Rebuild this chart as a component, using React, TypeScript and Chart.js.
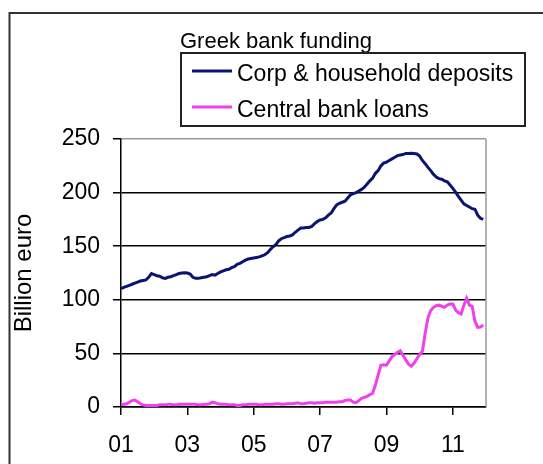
import React, { useEffect, useRef } from 'react';
import { Chart, registerables } from 'chart.js';

Chart.register(...registerables);

const FONT = '"Liberation Sans", Arial, Helvetica, sans-serif';

// Monthly data, Jan 2001 .. Dec 2011 (billion euro)
const startYear = 2001;
const deposits = [
  110.5, 111.5, 112.5, 113.5, 114.5, 115.5, 116.5, 117.5, 118, 118.5, 121, 124.5,
  123.5, 122.5, 122, 120.5, 120, 121, 121.5, 122.5, 123.5, 124.5, 125, 125.3,
  125, 124, 121, 120, 120, 120.5, 121, 121.5, 122.5, 123.5, 123, 124.5,
  126, 127, 128, 128.5, 130, 131, 133, 134, 135.5, 137, 138, 138.5,
  139, 139.5, 140, 141, 142, 144, 147, 149.5, 151.5, 155, 157, 158,
  159, 159.5, 160.5, 163, 165, 167, 167, 167.5, 167.5, 168.5, 171, 173,
  174.5, 175, 176.5, 179, 181, 185, 188.5, 190, 191, 192, 195, 198,
  199, 200, 201.5, 203, 205, 208, 211, 213.5, 218, 220.5, 225, 227.5,
  228.5, 230, 231.5, 233, 234.5, 235, 235.5, 236.5, 236.5, 236.8, 236.5, 236,
  234, 230, 227, 223.5, 220.5, 217, 214.5, 213, 212.5, 211, 210, 207,
  204, 200.5, 196.5, 193, 189.5, 188, 186.5, 185, 184.5, 179, 176, 175,
];
const loans = [
  2, 2.5, 3, 4.5, 6, 6.5, 5, 3, 2, 1.5, 1.5, 1.5,
  1.5, 1.5, 2, 2, 2, 2.5, 2.5, 2, 2, 2.5, 2.5, 2.5,
  2.5, 2.5, 2.5, 2.5, 2, 2, 2.5, 2.5, 3, 4.5, 4, 3,
  2.5, 2.5, 2.5, 2, 2, 2, 1.5, 1.5, 2, 2, 2.5, 2.5,
  2.5, 2.5, 2, 2, 2.5, 2.5, 2.5, 2.5, 3, 3, 2.5, 2.5,
  3, 3, 3, 3.5, 4, 3, 3, 3.5, 4, 4, 3.5, 4,
  4, 4, 4.5, 4.5, 4.5, 4.5, 4.5, 5, 5, 6, 6.5, 6.5,
  4.5, 4, 6, 8, 9, 10, 11.5, 12.8, 20.5, 30, 39, 39.5,
  39, 43, 47, 49, 51, 52.5, 48, 44, 40, 38, 41, 45,
  49, 52, 68.7, 83, 90, 93, 94.5, 95, 94, 93, 95, 96,
  96, 90.5, 88, 86.8, 95, 101.4, 95, 94, 80, 74.3, 74.5, 76.5,
];

const seriesNames = ['Corp & household deposits', 'Central bank loans'];
const seriesColors = ['#0b1470', '#f040ee'];
const xTickYears = [2001, 2003, 2005, 2007, 2009, 2011];
const xTickLabels = ['01', '03', '05', '07', '09', '11'];
const yTicks = [0, 50, 100, 150, 200, 250];
const chartTitle = 'Greek bank funding';
const yTitle = 'Billion euro';

const decor = {
  id: 'decor',
  beforeDraw(chart: any) {
    const ctx = chart.ctx;
    ctx.save();
    ctx.fillStyle = '#fff';
    ctx.fillRect(0, 0, chart.width, chart.height);
    ctx.strokeStyle = '#333';
    ctx.lineWidth = 2;
    ctx.beginPath();
    ctx.moveTo(9.5, chart.height + 10);
    ctx.lineTo(9.5, 13);
    ctx.lineTo(chart.width + 10, 13);
    ctx.stroke();
    ctx.restore();
  },
  afterDraw(chart: any) {
    const { ctx, chartArea } = chart;
    ctx.save();
    ctx.strokeStyle = '#9a9a9a';
    ctx.lineWidth = 1.5;
    ctx.beginPath();
    ctx.moveTo(chartArea.right, chartArea.top);
    ctx.lineTo(chartArea.right, chartArea.bottom);
    ctx.stroke();

    ctx.fillStyle = '#000';
    ctx.textAlign = 'left';
    ctx.textBaseline = 'alphabetic';
    ctx.font = `22px ${FONT}`;
    ctx.fillText(chartTitle, 180, 48);

    ctx.strokeStyle = '#222';
    ctx.lineWidth = 2;
    ctx.strokeRect(181, 53, 344, 73);

    ctx.font = `23px ${FONT}`;
    chart.data.datasets.forEach((ds: any, i: number) => {
      const yLine = 71 + i * 36;
      ctx.strokeStyle = ds.borderColor;
      ctx.lineWidth = 3;
      ctx.beginPath();
      ctx.moveTo(192, yLine);
      ctx.lineTo(232, yLine);
      ctx.stroke();
      ctx.fillStyle = '#000';
      ctx.fillText(ds.label, 237, 81 + i * 36);
    });
    ctx.restore();
  },
};

export default function App() {
  const ref = useRef<HTMLCanvasElement>(null);
  useEffect(() => {
    const toPoints = (arr: number[]) => arr.map((v, i) => ({ x: startYear + i / 12, y: v }));
    const chart = new Chart(ref.current as HTMLCanvasElement, {
      type: 'line',
      data: {
        datasets: [
          {
            label: seriesNames[0],
            data: toPoints(deposits),
            borderColor: seriesColors[0],
            borderWidth: 3,
            pointRadius: 0,
            tension: 0,
          },
          {
            label: seriesNames[1],
            data: toPoints(loans),
            borderColor: seriesColors[1],
            borderWidth: 3,
            pointRadius: 0,
            tension: 0,
          },
        ],
      },
      options: {
        animation: false,
        responsive: false,
        devicePixelRatio: 1,
        layout: { padding: { top: 139, right: 57, left: 0, bottom: 0 } },
        plugins: {
          legend: { display: false },
          title: { display: false },
          tooltip: { enabled: false },
        },
        scales: {
          x: {
            type: 'linear',
            min: 2001,
            max: 2012,
            afterBuildTicks: (scale: any) => {
              scale.ticks = xTickYears.map((v) => ({ value: v }));
            },
            afterFit: (scale: any) => {
              scale.height = 57;
            },
            grid: {
              drawOnChartArea: false,
              drawTicks: true,
              tickLength: 8,
              color: '#000',
              tickColor: '#000',
              lineWidth: 1.5,
            },
            border: { display: true, color: '#000', width: 1.5 },
            ticks: {
              autoSkip: false,
              maxRotation: 0,
              padding: 17,
              color: '#000',
              font: { family: FONT, size: 23 },
              callback: (value: any) => {
                const i = xTickYears.indexOf(Number(value));
                return i >= 0 ? xTickLabels[i] : '';
              },
            },
          },
          y: {
            min: 0,
            max: 250,
            afterBuildTicks: (scale: any) => {
              scale.ticks = yTicks.map((v) => ({ value: v }));
            },
            afterFit: (scale: any) => {
              scale.width = 121;
            },
            grid: {
              drawTicks: true,
              tickLength: 8,
              color: (c: any) => (c.tick && c.tick.value === 250 ? '#9a9a9a' : '#000'),
              tickColor: '#000',
              lineWidth: 1.5,
            },
            border: { display: true, color: '#000', width: 1.5 },
            ticks: {
              padding: 13,
              color: '#000',
              font: { family: FONT, size: 23 },
            },
            title: {
              display: true,
              text: yTitle,
              color: '#000',
              font: { family: FONT, size: 24 },
              padding: { top: 10, bottom: 0 },
            },
          },
        },
      },
      plugins: [decor],
    } as any);
    return () => chart.destroy();
  }, []);
  return (
    <div style={{ position: 'absolute', left: 0, top: 0, width: 543, height: 464 }}>
      <canvas ref={ref} width={543} height={464} style={{ display: 'block', width: 543, height: 464 }} />
    </div>
  );
}
